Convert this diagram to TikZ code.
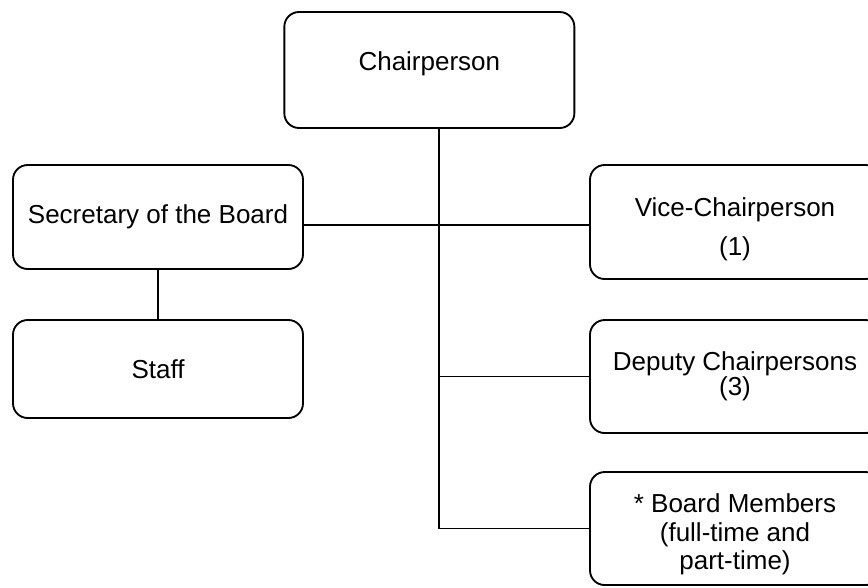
\documentclass[tikz,border=0pt]{standalone}
\usepackage{fontspec}
\setmainfont{Liberation Sans}
\usepackage{tikz}
\tikzset{
    box/.style={
           rectangle,
           rounded corners=11pt,
           draw=black, line width=1.4pt,
           minimum width=217.5pt,
           inner sep=2pt,
           align=center,
           font=\fontsize{19.5}{23.4}\selectfont
           },
}
\begin{document}
\begin{tikzpicture}[line width=1.4pt]
            \path[use as bounding box, clip] (0pt,0pt) rectangle (651pt,-440.25pt);

             \node[box, minimum height=87pt, text depth=14pt] (CHAIR) at (322pt,-52.5pt)
             {Chairperson};

             \coordinate (HUB) at (329.25pt,-168.75pt);

             \node[box, minimum height=78pt] (SEC) at (118.5pt,-162.75pt)
             {Secretary of the Board};

             \node[box,
              minimum height=73.5pt,
              below of=SEC,
              node distance=114pt,
              anchor=center] (STAFF)
             {Staff};

             \node[box, minimum height=85.5pt] (VICE) at (551.25pt,-166.5pt)
             {\rule{0pt}{24.5pt}Vice-Chairperson\\[5.9pt] (1)};

             \node[box,
              minimum height=84.75pt,
              below of=VICE,
              node distance=115.9pt,
              anchor=center] (DEPUTY)
             {Deputy Chairpersons\\[-4.7pt] (3)};

             \node[box,
              minimum height=84.75pt,
              below of=DEPUTY,
              node distance=114pt,
              anchor=center] (BOARD)
             {\rule{0pt}{23.2pt}* Board Members\\[-2pt] (full-time and\\[-2pt] part-time)};

             \draw (CHAIR.south -| HUB) -- (BOARD.west -| HUB) -- (BOARD.west);
             \draw (SEC.east |- HUB) -- (VICE.west |- HUB);
             \draw (DEPUTY.west -| HUB) -- (DEPUTY.west);
             \path (SEC) edge (STAFF);

        \end{tikzpicture}
\end{document}
